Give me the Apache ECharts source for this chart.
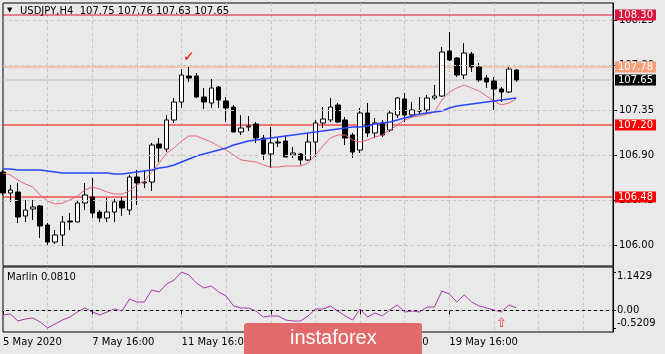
<!DOCTYPE html>
<html>
<head>
<meta charset="utf-8">
<title>USDJPY H4</title>
<script src="https://cdn.jsdelivr.net/npm/echarts@6/dist/echarts.min.js"></script>
<style>
html,body{margin:0;padding:0;background:#e9e9e9;}
#main{width:665px;height:354px;}
</style>
</head>
<body>
<div id="main"></div>
<script>
// H4 bars (oldest first)
var opens  = [106.73,106.52,106.53,106.29,106.36,106.39,106.20,106.03,106.10,106.24,
              106.23,106.42,106.48,106.33,106.27,106.33,106.44,106.35,106.68,106.62,
              106.63,107.01,106.96,107.25,107.43,107.69,107.69,107.48,107.42,107.58,
              107.44,107.38,107.13,107.18,107.21,107.07,106.91,107.03,107.04,106.90,
              106.91,106.85,107.03,107.22,107.25,107.40,107.25,107.10,106.95,107.32,
              107.12,107.22,107.15,107.30,107.46,107.30,107.34,107.35,107.47,107.49,
              107.94,107.87,107.70,107.91,107.78,107.67,107.64,107.56,107.53,107.75];
var highs  = [106.75,106.60,106.62,106.45,106.45,106.40,106.22,106.15,106.29,106.32,
              106.45,106.62,106.67,106.35,106.47,106.46,106.48,106.70,106.75,106.75,
              107.02,107.07,107.30,107.47,107.76,107.78,107.72,107.57,107.66,107.59,
              107.48,107.40,107.30,107.29,107.23,107.10,107.18,107.07,107.10,106.98,
              106.92,107.12,107.25,107.38,107.47,107.42,107.28,107.12,107.37,107.42,
              107.27,107.25,107.35,107.48,107.52,107.43,107.48,107.50,107.60,107.98,
              108.13,107.88,108.02,107.93,107.82,107.70,107.68,107.58,107.78,107.76];
var lows   = [106.50,106.43,106.22,106.23,106.25,106.07,106.00,106.01,105.99,106.15,
              106.23,106.35,106.27,106.23,106.23,106.23,106.29,106.30,106.40,106.57,
              106.54,106.83,106.93,107.22,107.37,107.63,107.47,107.36,107.37,107.37,
              107.23,107.13,107.10,107.14,107.02,106.85,106.77,106.98,106.88,106.87,
              106.80,106.84,106.88,107.17,107.23,107.22,107.00,106.87,106.92,107.08,
              107.07,107.08,107.13,107.27,107.23,107.27,107.30,107.32,107.45,107.48,
              107.84,107.68,107.66,107.73,107.63,107.57,107.35,107.43,107.52,107.63];
var closes = [106.52,106.55,106.28,106.35,106.38,106.19,106.03,106.10,106.23,106.23,
              106.42,106.50,106.32,106.27,106.33,106.43,106.37,106.68,106.62,106.63,
              107.00,106.97,107.25,107.43,107.70,107.67,107.48,107.43,107.57,107.45,
              107.37,107.13,107.17,107.19,107.07,106.91,107.02,107.02,106.88,106.92,
              106.85,107.03,107.22,107.26,107.38,107.23,107.07,106.93,107.32,107.12,
              107.22,107.10,107.32,107.47,107.30,107.35,107.34,107.47,107.49,107.93,
              107.85,107.70,107.92,107.78,107.65,107.63,107.56,107.53,107.76,107.65];
// moving averages (red = fast, blue = slow)
var fastMa = [106.72,106.70,106.65,106.61,106.58,106.50,106.44,106.41,106.42,106.45,
              106.49,106.55,106.58,106.56,106.53,106.51,106.51,106.54,106.60,106.64,
              106.73,106.82,106.92,106.97,107.04,107.09,107.09,107.06,107.03,106.99,
              106.95,106.90,106.85,106.84,106.83,106.80,106.78,106.78,106.79,106.79,
              106.79,106.82,106.90,106.99,107.07,107.10,107.10,107.05,107.03,107.05,
              107.08,107.10,107.15,107.20,107.25,107.28,107.29,107.31,107.33,107.45,
              107.53,107.57,107.60,107.57,107.54,107.49,107.44,107.40,107.42,107.46];
var slowMa = [106.76,106.76,106.75,106.75,106.75,106.75,106.74,106.73,106.72,106.72,
              106.72,106.72,106.72,106.72,106.72,106.71,106.71,106.72,106.73,106.74,
              106.75,106.77,106.78,106.80,106.83,106.86,106.89,106.91,106.93,106.95,
              106.97,107.00,107.02,107.04,107.05,107.06,107.07,107.08,107.09,107.10,
              107.11,107.12,107.13,107.14,107.15,107.16,107.17,107.18,107.18,107.19,
              107.21,107.22,107.23,107.25,107.27,107.29,107.31,107.32,107.33,107.34,
              107.37,107.39,107.40,107.41,107.42,107.43,107.44,107.45,107.46,107.47];
var marlin = [-0.134,-0.105,-0.313,-0.254,-0.224,-0.343,-0.521,-0.402,-0.283,-0.194,
              -0.045,0.073,-0.045,-0.134,-0.045,0.044,-0.016,0.341,0.252,0.252,
              0.608,0.549,0.786,0.905,1.143,1.054,0.816,0.668,0.727,0.549,
              0.430,0.133,0.073,0.073,-0.016,-0.194,-0.164,-0.164,-0.283,-0.313,
              -0.313,-0.164,0.044,0.044,0.133,-0.016,-0.164,-0.283,0.044,-0.194,
              -0.075,-0.164,0.014,0.163,-0.045,-0.016,-0.045,0.103,0.103,0.579,
              0.489,0.252,0.460,0.252,0.133,0.073,0.014,-0.045,0.163,0.081];

var priceTicks  = [106.00, 106.45, 106.90, 107.35, 107.80, 108.25];
var marlinTicks = [1.1429, 0, -0.5209];
var levels      = [108.30, 107.78, 107.20, 106.48];
var bid         = 107.65;
var labelEvery  = 12;   // bars between time labels
var gridEvery   = 6;    // bars between vertical grid lines
var totalBars   = 83;   // bars that fit the window (right part is empty)

// H4 time axis, weekends skipped
var mon = ['Jan','Feb','Mar','Apr','May','Jun','Jul','Aug','Sep','Oct','Nov','Dec'];
var categories = [];
var t = Date.UTC(2020, 4, 5, 16);
while (categories.length < totalBars) {
    var d = new Date(t);
    var wd = d.getUTCDay();
    if (wd !== 0 && wd !== 6) {
        var h = d.getUTCHours();
        categories.push(d.getUTCDate() + ' ' + mon[d.getUTCMonth()] + ' ' + (h < 10 ? '0' : '') + h + ':00');
    }
    t += 4 * 3600 * 1000;
}

var candles = opens.map(function (o, i) { return [o, closes[i], lows[i], highs[i]]; });
var last = candles.length - 1;

var font = 'DejaVu Sans';
var dash = {color: '#c4c4c4', type: [3, 3], width: 1};

// one horizontal price line across the window, tagged on the price scale
function levelSeries(v, lineColor, tagColor) {
    return {
        type: 'line', silent: true, z: 2, symbol: 'none',
        data: [[0, v], [totalBars - 1, v]],
        lineStyle: {color: lineColor, width: 1},
        endLabel: {
            show: true, distance: 2, color: '#fff', backgroundColor: tagColor,
            fontSize: 10, fontFamily: font, padding: [1, 3, 0, 3],
            formatter: function (p) { return p.value[1].toFixed(2); }
        }
    };
}

function showLabel(i) { return i % labelEvery === 0 && i <= 60; }
function showGrid(i) { return i > 0 && i % gridEvery === 0; }

var myChart = echarts.init(document.getElementById('main'));
var option = {
    animation: false,
    backgroundColor: '#e9e9e9',
    textStyle: {fontFamily: font},
    grid: [
        {left: 3, top: 3, width: 610, height: 263, show: true, borderColor: '#000', borderWidth: 1},
        {left: 3, top: 267, width: 610, height: 65, show: true, borderColor: '#000', borderWidth: 1}
    ],
    xAxis: [
        {
            gridIndex: 0, type: 'category', data: categories, boundaryGap: false,
            axisLine: {show: false}, axisTick: {show: false}, axisLabel: {show: false},
            splitLine: {show: true, interval: showGrid, lineStyle: dash}
        },
        {
            gridIndex: 1, type: 'category', data: categories, boundaryGap: false,
            axisLine: {show: true, lineStyle: {color: '#000'}},
            axisTick: {show: true, interval: showLabel, length: 4, lineStyle: {color: '#000'}},
            axisLabel: {
                interval: showLabel, align: 'left', margin: 5, color: '#000', fontSize: 10, fontFamily: font,
                formatter: function (v, i) { return i === 0 ? '5 May 2020' : v; }
            },
            splitLine: {show: true, interval: showGrid, lineStyle: dash}
        }
    ],
    yAxis: [
        {
            gridIndex: 0, position: 'right', min: 105.79, max: 108.42,
            axisLine: {show: true, lineStyle: {color: '#000'}},
            axisTick: {show: true, customValues: priceTicks, length: 4, lineStyle: {color: '#000'}},
            axisLabel: {
                customValues: priceTicks, margin: 6, color: '#000', fontSize: 10, fontFamily: font,
                formatter: function (v) { return v.toFixed(2); }
            },
            splitLine: {show: false}
        },
        {
            gridIndex: 1, position: 'right', min: -0.6397, max: 1.2914,
            axisLine: {show: true, lineStyle: {color: '#000'}},
            axisTick: {show: true, customValues: marlinTicks, length: 3, lineStyle: {color: '#000'}},
            axisLabel: {
                customValues: marlinTicks, margin: 4, color: '#000', fontSize: 10, fontFamily: font,
                formatter: function (v) {
                    if (v > 1) return '{t|' + v.toFixed(4) + '}';
                    if (v < 0) return '{b|' + v.toFixed(4) + '}';
                    return '0.00';
                },
                rich: {
                    t: {padding: [9, 0, 0, 0], fontSize: 10, fontFamily: font, color: '#000'},
                    b: {padding: [0, 0, 9, 0], fontSize: 10, fontFamily: font, color: '#000'}
                }
            },
            splitLine: {show: false}
        }
    ],
    series: [
        {
            name: 'grid', type: 'line', data: [], z: 1, silent: true,
            markLine: {
                silent: true, symbol: ['none', 'none'], label: {show: false},
                lineStyle: dash,
                data: priceTicks.map(function (v) { return {yAxis: v}; })
            }
        },
        levelSeries(bid, '#c0c0c0', '#000000'),
        levelSeries(levels[0], '#dc143c', '#dc143c'),
        levelSeries(levels[1], '#f7a07a', '#f7a07a'),
        levelSeries(levels[2], '#ff0000', '#ff0000'),
        levelSeries(levels[3], '#ff0000', '#ff0000'),
        {
            name: 'USDJPY', type: 'candlestick', data: candles, barWidth: 5, z: 3,
            itemStyle: {color: '#ffffff', color0: '#000000', borderColor: '#000000', borderColor0: '#000000', borderWidth: 1},
            markPoint: {
                silent: true, symbol: 'circle', symbolSize: 1, itemStyle: {color: 'transparent'},
                label: {show: true, position: 'inside', formatter: '\u2713', color: '#ff0000', fontSize: 14, fontWeight: 'bold'},
                data: [{coord: [25, 107.88]}]
            }
        },
        {
            name: 'MA fast', type: 'line', data: fastMa, symbol: 'none', z: 4,
            lineStyle: {color: '#e8667c', width: 1}
        },
        {
            name: 'MA slow', type: 'line', data: slowMa, symbol: 'none', z: 4,
            lineStyle: {color: '#2846ff', width: 1.5}
        },
        {
            name: 'Marlin', type: 'line', xAxisIndex: 1, yAxisIndex: 1, data: marlin, symbol: 'none',
            lineStyle: {color: '#a23aa6', width: 1},
            markLine: {
                silent: true, symbol: ['none', 'none'], label: {show: false},
                lineStyle: dash, data: [{yAxis: 0}]
            },
            markPoint: {
                silent: true, symbol: 'circle', symbolSize: 1, itemStyle: {color: 'transparent'},
                label: {show: true, position: 'inside', formatter: '\u21e7', color: '#ff3030', fontSize: 13},
                data: [{coord: [67, -0.40]}]
            }
        }
    ],
    graphic: [
        {type: 'text', left: 7, top: 7, z: 10, style: {text: '\u25bc', fontSize: 7, fill: '#000', fontFamily: font}},
        {type: 'text', left: 20, top: 6, z: 10, style: {
            text: 'USDJPY,H4  ' + [opens[last], highs[last], lows[last], closes[last]].map(function (v) { return v.toFixed(2); }).join(' '),
            fontSize: 10, fill: '#000', fontFamily: font}},
        {type: 'text', left: 7, top: 272, z: 10, style: {
            text: 'Marlin ' + marlin[last].toFixed(4), fontSize: 10, fill: '#000', fontFamily: font}},
        {type: 'rect', left: 244, top: 323, z: 20, shape: {width: 178, height: 31, r: [3, 3, 0, 0]}, style: {fill: '#e36a6a'}},
        {type: 'text', left: 290, top: 328, z: 21, style: {text: 'instaforex', fontSize: 20, fill: '#fff', fontFamily: 'Liberation Sans'}}
    ]
};
myChart.setOption(option);
</script>
</body>
</html>
